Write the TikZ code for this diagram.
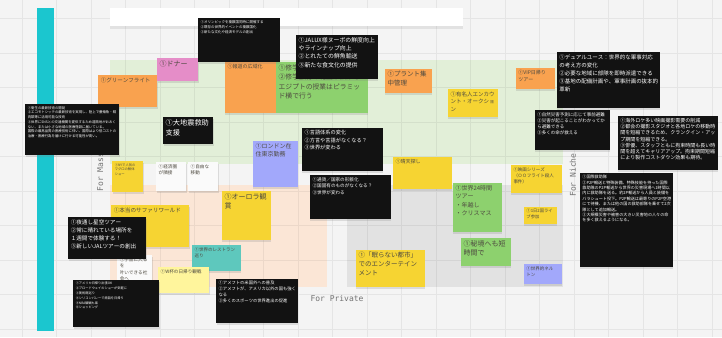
\documentclass[tikz,border=0pt]{standalone}
\usepackage{fontspec}
\setmainfont{Noto Sans CJK JP}
\newfontfamily\axisfont{DejaVu Sans Mono}
\XeTeXlinebreaklocale "ja"
\XeTeXlinebreakskip=0pt plus 1pt
\usepackage{tikz}
\usetikzlibrary{positioning,shadows}

\definecolor{board}{HTML}{F4F4F4}
\definecolor{massgreen}{HTML}{E2EFD8}
\definecolor{privpeach}{HTML}{FBE6D6}
\definecolor{nichegray}{HTML}{E2E2E2}
\definecolor{sidebar}{HTML}{1BC6CF}
\definecolor{noteyellow}{HTML}{F6D432}
\definecolor{noteorange}{HTML}{F9A24F}
\definecolor{notepink}{HTML}{E58DC8}
\definecolor{notegreen}{HTML}{8DD16E}
\definecolor{noteblue}{HTML}{A2A8FB}
\definecolor{noteteal}{HTML}{5EC8BD}
\definecolor{notelight}{HTML}{FFF59C}
\definecolor{notewhite}{HTML}{FAFAFA}
\definecolor{notedark}{HTML}{121212}
\definecolor{notetext}{HTML}{4E4A40}

\begin{document}
\begin{tikzpicture}[line join=bevel,
  note/.style 2 args={anchor=north west, inner sep=0pt, outer sep=0pt,
    minimum width=#1bp, minimum height=#2bp,
    drop shadow={opacity=.22, shadow xshift=.4bp, shadow yshift=-1.6bp},
    execute at begin node={\begin{minipage}[t][#2bp][t]{#1bp}\vspace{2.2bp}%
      \leftskip=2.6bp\rightskip=1.5bp plus 1fil\parindent=0pt\noindent},
    execute at end node={\end{minipage}}},
  fs/.style 2 args={font=\fontsize{#1bp}{#2bp}\selectfont},
  blacknote/.style 2 args={note={#1}{#2}, fill=notedark, text=white},
  yellownote/.style 2 args={note={#1}{#2}, fill=noteyellow, text=notetext},
  orangenote/.style 2 args={note={#1}{#2}, fill=noteorange, text=notetext},
  pinknote/.style 2 args={note={#1}{#2}, fill=notepink, text=notetext},
  greennote/.style 2 args={note={#1}{#2}, fill=notegreen, text=notetext},
  bluenote/.style 2 args={note={#1}{#2}, fill=noteblue, text=notetext},
  tealnote/.style 2 args={note={#1}{#2}, fill=noteteal, text=notetext},
  lightnote/.style 2 args={note={#1}{#2}, fill=notelight, text=notetext},
  whitenote/.style 2 args={note={#1}{#2}, fill=notewhite, text=notetext},
  axislabel/.style={text=black!55, font=\axisfont\fontsize{8bp}{9bp}\selectfont},
  ]
%% board
\fill [board] (0bp,0bp) rectangle (722bp,337bp);
\fill [massgreen] (110bp,173bp) rectangle (563bp,277bp);
\fill [privpeach] (110bp,50bp) rectangle (327bp,152bp);
\fill [nichegray] (347bp,50bp) rectangle (563bp,152bp);
\draw [black, opacity=.06, line width=.5bp, step=34.5bp, xshift=22bp, yshift=8bp] (-22bp,-8bp) grid (700bp,329bp);
\fill [sidebar] (37bp,6bp) rectangle (54bp,329bp);
\fill [white, drop shadow={opacity=.15, shadow xshift=0bp, shadow yshift=-2.5bp}] (110bp,311bp) rectangle (463bp,329bp);
%% axes
\node (mass) at (100bp,165bp) [axislabel, rotate=90] {For Mass};
\node (niche) at (573bp,162bp) [axislabel, rotate=90] {For Niche};
\node (private) at (337bp,39bp) [axislabel] {For Private};
%% notes
\node (greenflight) at (98bp,262bp) [orangenote={59}{32}, fs={5.5}{7.5}] {①グリーンフライト};
\node (eisei) at (25bp,233bp) [blacknote={94}{51}, fs={3.4}{4.7}] {①衛生の最新技術の開発\\②エコモトシッテの最新技術を実現し、陸上で養殖魚・精肉類等に活用可能な技術\\③世界にSNSとの交通機関を提供するため遠隔地がおおくない、または小さな地域の医療施設に届いている。\\国際の最高品質の医療技術に伴い、国際はより低コストの治療・医療行為を届けに行ける可能性が高い。};
\node (donor) at (157bp,279bp) [pinknote={41}{23}, fs={7}{9}] {①ドナー};
\node (houdou) at (225bp,275bp) [orangenote={51}{51}, fs={5}{7}] {①報道の広域化};
\node (shugaku) at (276bp,275bp) [greennote={92}{51}, fs={6.8}{9.5}] {①修学旅行先の拡大\\②修学旅行の範囲が広がる\\エジプトの授業はピラミッド横で行う};
\node (olympic) at (198bp,319bp) [blacknote={82}{44}, fs={3.5}{5}] {①オリンピックを複数国同時に開催する\\②既存の世界的イベントの複数国化\\③新たな文化や経済モデルの創出};
\node (jalux) at (296bp,302bp) [blacknote={82}{44}, fs={5.9}{8.3}] {①JALUX様ヌーボの鮮度向上やラインナップ向上\\②とれたての鮮魚輸送\\③新たな食文化の提供};
\node (plant) at (385bp,268bp) [orangenote={47}{24}, fs={6.5}{9}] {①プラント集中管理};
\node (vip) at (516bp,269bp) [orangenote={39}{21}, fs={5}{7}] {①VIP日帰り\\ツアー};
\node (celebrity) at (448bp,248bp) [yellownote={50}{28}, fs={5.5}{7.5}] {①有名人エンカウント・オークション};
\node (dualuse) at (557bp,285bp) [blacknote={103}{56}, fs={5.5}{8}] {①デュアルユース：世界的な軍事対応の考え方の変化\\②必要な地域に部隊を即時派遣できる\\③基地の配備計画や、軍事計画の抜本的革新};
\node (disaster) at (535bp,227bp) [blacknote={75}{40}, fs={4.5}{6}] {①自然災害予測に応じて事前避難\\②災害が起こることがわかってから避難できる\\③多くの命が救える};
\node (location) at (618bp,221bp) [blacknote={100}{54}, fs={5}{6.2}] {①海外ロケ多い映画撮影需要の削減\\②都会の撮影スタジオと各地ロケの移動時間を短縮できるため、クランクイン・アップ期間を短縮できる。\\③俳優、スタッフともに拘束時間も長い時間を超えてキャリアアップ。拘束期間短縮により製作コストダウン効果も期待。};
\node (rescue) at (580bp,164bp) [blacknote={93}{94}, fs={4.1}{5.4}] {①国際救助隊\\②P2P輸送と特殊装備、特殊技能を持った国際救助隊のP2P輸送から世界の災害現場へ1時間以内に救助隊を送る。約2P輸送から人員と装備をパラシュート投下。P2P輸送は最寄りのP2P空港にて待機、または他の国の救助部隊を乗せて2次隊として追加輸送。\\③大規模災害や被害の大きい災害地の人々の命を多く救えるようになる。};
\node (earthquake) at (163bp,220bp) [blacknote={50}{27}, fs={7.2}{10}] {①大地震救助\\支援};
\node (nymaguro) at (112bp,176bp) [yellownote={31}{31}, fs={3.3}{4.8}] {①NYで人気の\\マグロの解体\\ショー};
\node (keizai) at (156bp,175bp) [whitenote={30}{29}, fs={4.6}{6.2}] {①経済圏\\が隣接};
\node (jiyu) at (188bp,175bp) [whitenote={30}{29}, fs={4.6}{6.2}] {①自由な\\移動};
\node (london) at (253bp,196bp) [bluenote={45}{46}, fs={6}{8}] {①ロンドン在住東京勤務};
\node (gengo) at (302bp,209bp) [blacknote={81}{43}, fs={5.2}{7.5}] {①言語体系の変化\\②方言や言語がなくなる？\\③世界が変わる};
\node (tsuka) at (310bp,162bp) [blacknote={81}{44}, fs={4.6}{6.5}] {①通貨／国家の形骸化\\②国固有のものがなくなる？\\③世界が変わる};
\node (seiten) at (393bp,180bp) [yellownote={59}{32}, fs={5}{7}] {①晴天探し};
\node (safari) at (111bp,132bp) [yellownote={78}{42}, fs={5.6}{7.5}] {①本当のサファリワールド};
\node (aurora) at (222bp,146bp) [yellownote={49}{49}, fs={7}{9.5}] {①オーロラ観賞};
\node (restaurant) at (192bp,92bp) [tealnote={49}{26}, fs={4.5}{6}] {①世界のレストラン巡り};
\node (uchu) at (117bp,82bp) [whitenote={35}{35}, fs={4.6}{6.5}] {①宇宙に入るを\\叶いできる社\\会へ};
\node (hoshizora) at (68bp,120bp) [blacknote={78}{42}, fs={5.6}{8}] {①夜通し星空ツアー\\②常に晴れている場所を\\１週間で体験する！\\③新しいJALツアーの創出};
\node (wcup) at (158bp,70bp) [lightnote={51}{26}, fs={4.6}{6}] {①W杯の日帰り観戦};
\node (america) at (73bp,57bp) [blacknote={86}{47}, fs={3.2}{4.8}] {①アメリカ日帰り出張OK\\②ブロードウェイのショーが気軽に\\③美術館巡り\\④シリコンバレーで商談を日帰り\\⑤NBA観戦も楽\\⑥ショッピング};
\node (amefuto) at (216bp,58bp) [blacknote={82}{44}, fs={4.3}{6}] {①アメフトの米国外への普及\\②アメフトが、アメリカ以外の国も強くなる\\③多くのスポーツの世界進出の促進};
\node (nemuranai) at (356bp,87bp) [yellownote={69}{37}, fs={6.5}{9}] {①「眠らない都市」でのエンターテインメント};
\node (sekai24) at (453bp,154bp) [greennote={49}{49}, fs={6}{8.5}] {①世界24時間\\ツアー\\・年越し\\・クリスマス};
\node (hikyo) at (461bp,99bp) [greennote={50}{28}, fs={7}{9.5}] {①秘境へも短時間で};
\node (eiga) at (511bp,172bp) [yellownote={51}{28}, fs={4.5}{6.2}] {①映画シリーズ\\（ＯＯフライト殺人\\事件）};
\node (live) at (524bp,130bp) [yellownote={33}{17}, fs={4.3}{5.8}] {①1日2国ライ\\ブ参加};
\node (nelton) at (524bp,73bp) [bluenote={38}{20}, fs={4.5}{6.5}] {①世界的ネル\\トン};
%
\useasboundingbox (0bp,0bp) rectangle (722bp,337bp);
\end{tikzpicture}
\end{document}
